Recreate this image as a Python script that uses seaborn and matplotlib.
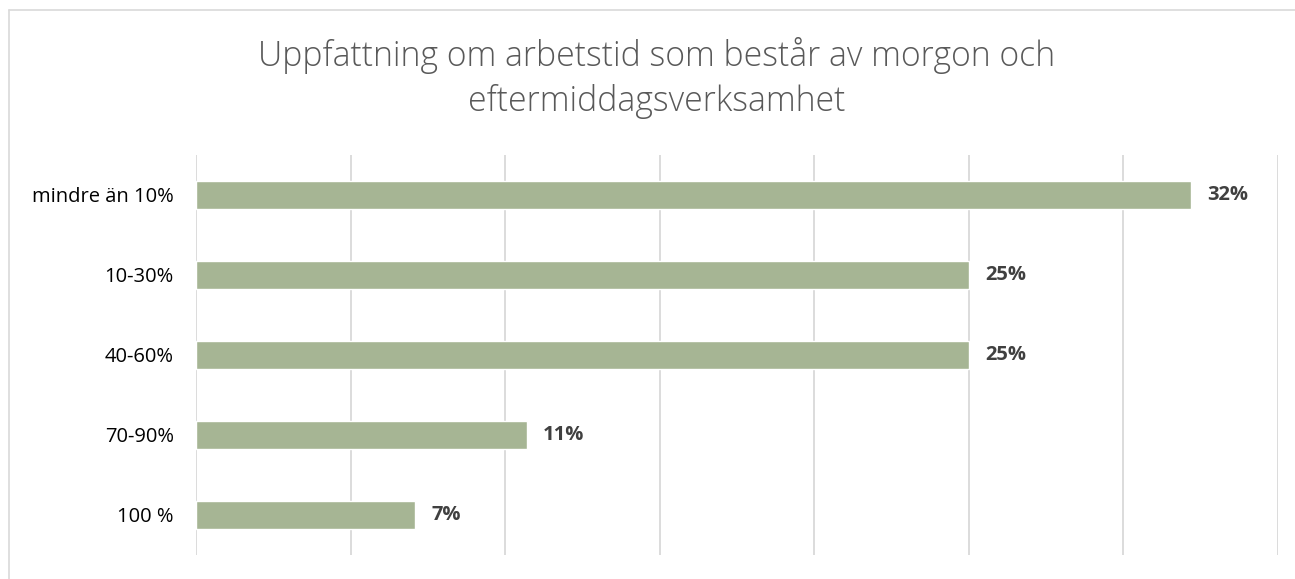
"""Horizontal bar chart: perception of working time split over morning and afternoon."""

import matplotlib

matplotlib.use("Agg")
import matplotlib.pyplot as plt
import pandas as pd
import seaborn as sns
from matplotlib.lines import Line2D

categories = ["mindre än 10%", "10-30%", "40-60%", "70-90%", "100 %"]
shares = [32.2, 25.0, 25.0, 10.7, 7.1]
value_labels = ["32%", "25%", "25%", "11%", "7%"]
title = "Uppfattning om arbetstid som består av morgon och\neftermiddagsverksamhet"

df = pd.DataFrame({"category": categories, "share": shares})

sns.set_theme(style="white")
plt.rcParams["font.family"] = ["Open Sans", "DejaVu Sans"]

fig = plt.figure(figsize=(12.95, 5.79), dpi=100)
ax = fig.add_axes([196 / 1295, 1 - 555 / 579, (1278 - 196) / 1295, 400 / 579])

sns.barplot(data=df, x="share", y="category", color="#a6b594", saturation=1,
            width=0.35, ax=ax, orient="h")

ax.set_xlim(0, 35)
ax.set_ylim(4.5, -0.5)
ax.set_xticks(range(0, 36, 5))
ax.set_xticklabels([])
ax.tick_params(axis="x", length=0)
ax.tick_params(axis="y", length=0, pad=16, labelsize=14.5, labelcolor="#000000")
ax.grid(axis="x", color="#d9d9d9", linewidth=1.3)
ax.set_axisbelow(True)
for spine in ax.spines.values():
    spine.set_visible(False)
ax.set_xlabel("")
ax.set_ylabel("")

for i, (val, lab) in enumerate(zip(shares, value_labels)):
    ax.annotate(lab, (val, i), xytext=(11.5, 0), textcoords="offset points",
                va="center", ha="left", fontsize=14.5, fontweight="bold",
                color="#404040")

fig.text(0.507, 1 - 78 / 579, title, ha="center", va="center", fontsize=24.3,
         color="#595959", linespacing=1.35, fontweight="light")

# chart border (only top and left edges fall inside the image)
fig.add_artist(Line2D([9 / 1295, 1], [1 - 10 / 579, 1 - 10 / 579],
                      transform=fig.transFigure, color="#d9d9d9", linewidth=1.2))
fig.add_artist(Line2D([9 / 1295, 9 / 1295], [0, 1 - 10 / 579],
                      transform=fig.transFigure, color="#d9d9d9", linewidth=1.2))

fig.savefig("out.png", dpi=100)
plt.close(fig)
